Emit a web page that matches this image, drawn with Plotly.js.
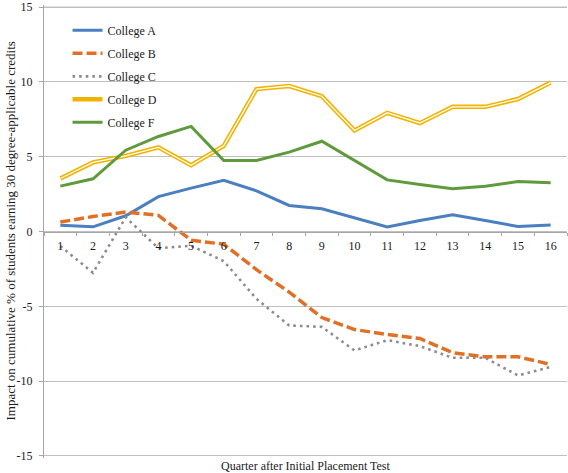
<!DOCTYPE html>
<html>
<head>
<meta charset="utf-8">
<script src="https://cdn.plot.ly/plotly-3.0.1.min.js"></script>
<style>html,body{margin:0;padding:0;background:#fff;}#chart{width:568px;height:473px;}</style>
</head>
<body>
<div id="chart"></div>
<script>
const quarters = ["1","2","3","4","5","6","7","8","9","10","11","12","13","14","15","16"];
const collegeA = [0.42,0.31,1.05,2.33,2.9,3.42,2.72,1.74,1.52,0.91,0.31,0.73,1.12,0.73,0.33,0.43];
const collegeB = [0.63,1.0,1.3,1.08,-0.58,-0.85,-2.55,-4.05,-5.75,-6.55,-6.88,-7.15,-8.1,-8.37,-8.37,-8.88];
const collegeC = [-0.98,-2.76,0.95,-1.12,-0.95,-1.98,-4.5,-6.28,-6.37,-7.95,-7.26,-7.66,-8.44,-8.44,-9.62,-9.05];
const collegeD = [3.54,4.62,5.05,5.62,4.43,5.72,9.52,9.72,9.04,6.75,7.93,7.24,8.33,8.33,8.85,9.95];
const collegeF = [3.03,3.52,5.43,6.35,7.02,4.74,4.74,5.3,6.03,4.74,3.45,3.14,2.85,3.03,3.34,3.25];
const yTicks = [-15,-10,-5,0,5,10,15];

const FONT = '"Liberation Serif", "DejaVu Serif", serif';

const traces = [
  {x: quarters, y: collegeA, name: "College A", legendgroup: "a", mode: "lines",
   line: {color: "#4a7fc0", width: 3}},
  {x: quarters, y: collegeB, name: "College B", legendgroup: "b", mode: "lines",
   line: {color: "#e07026", width: 3.5, dash: "10px,4px"}},
  {x: quarters, y: collegeC, name: "College C", legendgroup: "c", mode: "lines",
   line: {color: "#8c8c8c", width: 2.6, dash: "2.6px,4px"}},
  {x: quarters, y: collegeD, name: "College D", legendgroup: "d", mode: "lines",
   line: {color: "#f2b300", width: 4.5}},
  {x: quarters, y: collegeD, name: "College D", legendgroup: "d", mode: "lines", showlegend: false,
   line: {color: "#ffffff", width: 1.3}, hoverinfo: "skip"},
  {x: quarters, y: collegeF, name: "College F", legendgroup: "f", mode: "lines",
   line: {color: "#5f9a3c", width: 3}}
];

const layout = {
  width: 568, height: 473,
  margin: {l: 44, r: 1, t: 5, b: 15, pad: 0},
  paper_bgcolor: "#ffffff", plot_bgcolor: "#ffffff",
  font: {family: FONT, size: 12, color: "#1a1a1a"},
  showlegend: true,
  legend: {x: 0.045, y: 0.976, xanchor: "left", yanchor: "top",
    bgcolor: "rgba(255,255,255,0)", borderwidth: 0,
    font: {family: FONT, size: 12, color: "#1a1a1a"},
    traceorder: "grouped", tracegroupgap: 4},
  xaxis: {
    type: "category", anchor: "free", position: 0.5,
    range: [-0.5, 15.5], autorange: false,
    showgrid: false, zeroline: false,
    showline: true, linecolor: "#a6a6a6", linewidth: 1,
    ticks: "outside", tickson: "boundaries", ticklen: 3, tickcolor: "#a6a6a6",
    ticklabelstandoff: 3,
    tickfont: {family: FONT, size: 12, color: "#1a1a1a"},
    automargin: false
  },
  yaxis: {
    range: [-15.134, 15.134], autorange: false, tickvals: yTicks, ticktext: yTicks.map(String),
    showgrid: true, gridcolor: "#bfbfbf", gridwidth: 1,
    zeroline: false,
    showline: true, linecolor: "#a6a6a6", linewidth: 1,
    ticks: "outside", ticklen: 4, tickcolor: "#a6a6a6",
    ticklabeloverflow: "allow", ticklabelstandoff: 4,
    tickfont: {family: FONT, size: 12, color: "#1a1a1a"},
    automargin: false
  },
  shapes: [
    {type: "line", xref: "paper", yref: "y", x0: 0, x1: 1, y0: yTicks[yTicks.length - 1], y1: yTicks[yTicks.length - 1],
     line: {color: "#bfbfbf", width: 1}, layer: "below"}
  ],
  annotations: [
    {text: "Quarter after Initial Placement Test", xref: "paper", yref: "paper",
     x: 0.5, y: 0, yshift: -8, xanchor: "center", yanchor: "middle", showarrow: false,
     font: {family: FONT, size: 12, color: "#1a1a1a"}},
    {text: "Impact on cumulative % of students earning 30 degree-applicable credits",
     xref: "paper", yref: "paper", x: 0, xshift: -34, y: 0.5, xanchor: "center", yanchor: "middle",
     textangle: -90, showarrow: false,
     font: {family: FONT, size: 13, color: "#1a1a1a"}}
  ]
};

Plotly.newPlot("chart", traces, layout, {displayModeBar: false, staticPlot: true});
</script>
</body>
</html>
